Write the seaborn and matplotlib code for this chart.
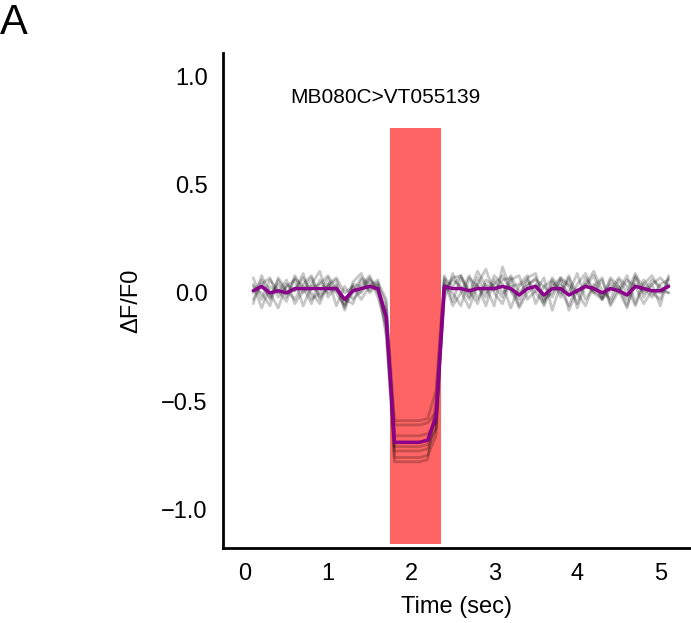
import numpy as np
import pandas as pd
import matplotlib
matplotlib.use("Agg")
import matplotlib.pyplot as plt
import seaborn as sns

# sample times (sec)
time = [round(0.1 * i, 1) for i in range(1, 52)]

# single-fly traces (dF/F0)
trace_1 = [0.07, -0.03, 0.06, 0.01, -0.04, 0.08, 0.00, 0.04, 0.10, -0.02, 0.03, -0.07, 0.05, 0.09, 0.00, 0.04,
           -0.05, -0.59, -0.59, -0.59, -0.59, -0.58, -0.45,
           0.08, -0.04, 0.07, 0.00, 0.10, 0.03, -0.06, 0.12, 0.01, -0.03, 0.07, 0.09, -0.04, 0.05,
           0.00, 0.08, -0.07, 0.04, 0.10, 0.01, -0.03, 0.06, 0.00, 0.09, -0.02, 0.04, 0.07, 0.03]
trace_2 = [-0.05, 0.08, 0.00, -0.07, 0.04, 0.01, 0.09, -0.03, 0.00, 0.07, -0.06, 0.03, -0.03, 0.01, 0.07, -0.02,
           -0.15, -0.61, -0.61, -0.61, -0.61, -0.60, -0.55,
           -0.03, 0.09, 0.01, -0.07, 0.04, 0.11, 0.00, -0.05, 0.06, 0.08, -0.03, 0.01, 0.07, -0.08,
           0.04, 0.00, 0.09, -0.03, 0.03, 0.07, -0.06, 0.01, 0.08, -0.05, 0.06, 0.00, -0.03, 0.07]
trace_3 = [0.03, 0.00, -0.06, 0.07, 0.01, -0.03, 0.04, 0.08, -0.02, 0.03, 0.06, -0.05, 0.00, 0.07, 0.04, 0.01,
           -0.08, -0.66, -0.66, -0.66, -0.66, -0.65, -0.60,
           0.04, 0.00, -0.06, 0.07, 0.03, -0.02, 0.08, 0.04, -0.07, 0.03, 0.06, 0.00, -0.05, 0.07,
           0.01, -0.06, 0.04, 0.09, 0.00, -0.03, 0.06, 0.01, -0.07, 0.08, 0.03, -0.02, 0.04, 0.06]
trace_4 = [0.00, 0.06, -0.03, 0.04, -0.02, 0.07, 0.03, -0.05, 0.06, 0.00, 0.04, -0.08, 0.03, 0.00, 0.06, 0.03,
           -0.20, -0.71, -0.71, -0.71, -0.71, -0.70, -0.62,
           0.01, 0.06, 0.03, -0.03, 0.07, 0.00, 0.04, 0.08, 0.01, -0.06, 0.03, 0.07, -0.03, 0.00,
           0.06, 0.03, -0.05, 0.07, 0.01, -0.02, 0.04, 0.00, 0.06, 0.03, -0.05, 0.01, 0.00, 0.04]
trace_5 = [0.04, -0.07, 0.03, 0.00, 0.06, -0.05, 0.01, 0.07, -0.03, 0.04, 0.00, -0.06, 0.04, 0.03, 0.08, 0.00,
           -0.12, -0.73, -0.73, -0.73, -0.73, -0.72, -0.63,
           0.06, -0.06, 0.00, 0.08, -0.03, 0.04, 0.01, 0.06, 0.07, -0.07, 0.00, 0.04, -0.06, 0.03,
           0.07, -0.08, 0.01, 0.04, 0.00, 0.06, -0.05, 0.03, -0.03, 0.07, 0.00, 0.04, -0.06, 0.08]
trace_6 = [-0.03, 0.04, 0.07, -0.02, 0.03, 0.06, -0.06, 0.03, 0.04, 0.08, 0.01, -0.03, -0.05, 0.06, 0.01, 0.05,
           -0.03, -0.76, -0.76, -0.76, -0.76, -0.75, -0.66,
           0.00, 0.07, 0.08, -0.02, 0.04, -0.06, 0.06, 0.00, 0.03, 0.04, 0.08, -0.05, 0.03, 0.06,
           -0.02, 0.07, 0.00, -0.06, 0.04, -0.03, 0.07, 0.03, -0.06, 0.04, 0.01, 0.06, 0.03, 0.00]
trace_7 = [0.01, 0.03, -0.02, 0.06, 0.00, 0.01, 0.07, 0.00, -0.05, 0.04, 0.07, 0.00, 0.03, -0.03, 0.03, 0.06,
           -0.18, -0.78, -0.78, -0.78, -0.78, -0.77, -0.50,
           0.07, 0.03, 0.08, 0.01, -0.05, 0.06, 0.03, -0.02, 0.08, 0.00, 0.04, 0.06, 0.03, -0.02,
           0.07, 0.04, 0.00, 0.03, 0.08, -0.03, 0.01, 0.07, 0.03, -0.06, 0.04, 0.08, 0.01, 0.00]

# mean trace (purple)
mean_trace = [0.01, 0.03, 0.00, 0.01, 0.00, 0.02, 0.02, 0.02, 0.02, 0.02, 0.02, -0.03, 0.01, 0.02, 0.03, 0.02,
              -0.11, -0.69, -0.69, -0.69, -0.69, -0.68, -0.57,
              0.03, 0.02, 0.02, 0.01, 0.02, 0.02, 0.02, 0.03, 0.02, -0.01, 0.02, 0.03, -0.01, 0.02,
              0.02, -0.01, 0.01, 0.03, 0.02, 0.00, 0.02, 0.01, -0.01, 0.03, 0.02, 0.01, 0.01, 0.03]

# stimulus window (sec) and its vertical extent
stim_on, stim_off = 1.75, 2.36
stim_low, stim_high = -1.16, 0.76

genotype = "MB080C>VT055139"

traces = [trace_1, trace_2, trace_3, trace_4, trace_5, trace_6, trace_7]
for tr in traces + [mean_trace]:
    assert len(tr) == len(time), len(tr)

df = pd.DataFrame({
    "time": np.tile(time, len(traces)),
    "dff": np.concatenate(traces),
    "fly": np.repeat(np.arange(len(traces)), len(time)),
})
df_mean = pd.DataFrame({"time": time, "dff": mean_trace})

sns.set_style("white")
plt.rcParams["font.family"] = ["Liberation Sans", "DejaVu Sans"]
plt.rcParams["text.color"] = "black"
plt.rcParams["axes.labelcolor"] = "black"
plt.rcParams["xtick.color"] = "black"
plt.rcParams["ytick.color"] = "black"

fig = plt.figure(figsize=(6.91, 6.23), dpi=100)
ax = fig.add_axes([0.3227, 0.1204, 0.6773, 0.7946])

ax.fill_between([stim_on, stim_off], stim_low, stim_high, color="#ff6464", lw=0, zorder=0)

sns.lineplot(data=df, x="time", y="dff", units="fly", estimator=None,
             color="black", alpha=0.22, lw=2, ax=ax, zorder=2)
sns.lineplot(data=df_mean, x="time", y="dff", color="#8b008b", lw=2.5, ax=ax, zorder=3)

ax.set_xlim(-0.265, 5.37)
ax.set_ylim(-1.178, 1.108)
ax.set_xticks([0, 1, 2, 3, 4, 5])
ax.set_yticks([-1.0, -0.5, 0.0, 0.5, 1.0])
ax.set_yticklabels(["\u22121.0", "\u22120.5", "0.0", "0.5", "1.0"])
ax.tick_params(length=0, labelsize=17, pad=11)

ax.set_xlabel("Time (sec)", fontsize=17, labelpad=8)
ax.set_ylabel("\u0394F/F0", fontsize=17, labelpad=14)

sns.despine(ax=ax)
for side in ["left", "bottom"]:
    ax.spines[side].set_color("black")
    ax.spines[side].set_linewidth(2)

ax.text(0.346, 0.911, genotype, transform=ax.transAxes, ha="center", va="center", fontsize=15)
fig.text(0.0, 0.995, "A", ha="left", va="top", fontsize=30)

fig.savefig("out.png", dpi=100)
